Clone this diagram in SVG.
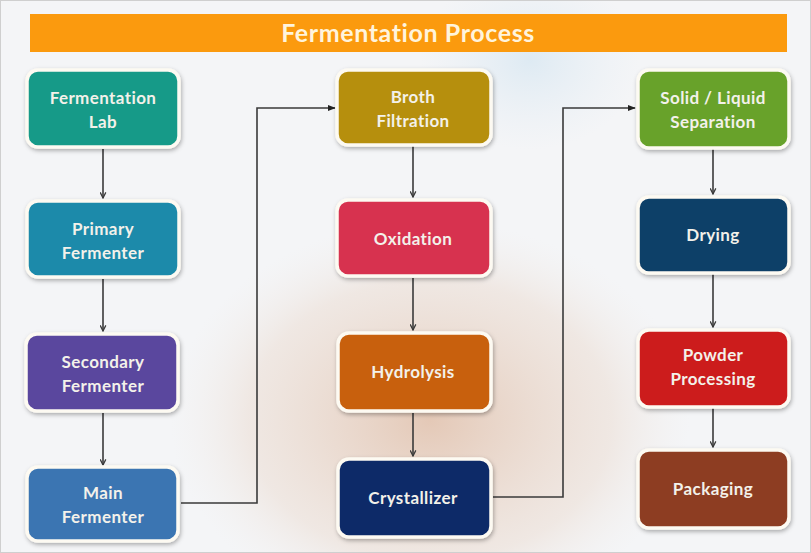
<svg xmlns="http://www.w3.org/2000/svg" width="811" height="553" viewBox="0 0 811 553">
<defs>
<style>
.box{stroke:#fdfaf2;stroke-width:3.5;filter:url(#sh)}
.lbl{font-family:Lato,"Open Sans","Liberation Sans",sans-serif;font-weight:bold;font-size:17px;letter-spacing:0.4px;text-anchor:middle;fill:#f3f1ea}
.con{fill:none;stroke:#3a3a3a;stroke-width:1.6}
.title{font-family:Lato,"Open Sans","Liberation Sans",sans-serif;font-weight:bold;font-size:25px;letter-spacing:0.6px;text-anchor:middle;fill:#fff4dc}
</style>
<filter id="sh" x="-10%" y="-10%" width="125%" height="130%">
<feDropShadow dx="1" dy="2" stdDeviation="2" flood-color="#000" flood-opacity="0.3"/>
</filter>
<radialGradient id="blob" cx="0.5" cy="0.5" r="0.5">
<stop offset="0" stop-color="#c26a2e" stop-opacity="0.32"/>
<stop offset="0.7" stop-color="#d7a27a" stop-opacity="0.16"/>
<stop offset="1" stop-color="#e8d5c4" stop-opacity="0"/>
</radialGradient>
<radialGradient id="blue" cx="0.5" cy="0.5" r="0.5">
<stop offset="0" stop-color="#cfe3f0" stop-opacity="0.6"/>
<stop offset="1" stop-color="#dfeaf3" stop-opacity="0"/>
</radialGradient>
<marker id="v" viewBox="0 0 10 10" refX="9" refY="5" markerWidth="7" markerHeight="7" orient="auto" markerUnits="userSpaceOnUse">
<path d="M1,1 L9,5 L1,9" fill="none" stroke="#3a3a3a" stroke-width="1.8"/>
</marker>
<marker id="tri" viewBox="0 0 10 10" refX="9" refY="5" markerWidth="8" markerHeight="8" orient="auto" markerUnits="userSpaceOnUse">
<path d="M0,1 L10,5 L0,9 Z" fill="#222"/>
</marker>
</defs>
<rect width="811" height="553" fill="#f4f5f7"/>
<ellipse cx="430" cy="420" rx="260" ry="200" fill="url(#blob)"/>
<ellipse cx="530" cy="60" rx="110" ry="90" fill="url(#blue)"/>
<rect x="0.5" y="0.5" width="810" height="552" fill="none" stroke="#cfcfcf"/>

<g id="header">
<rect x="30" y="14" width="757" height="38" fill="#fb9a0e"/>
<text class="title" x="408" y="42">Fermentation Process</text>
</g>

<g id="connectors">
<line class="con" x1="103" y1="149" x2="103" y2="198" marker-end="url(#v)"/>
<line class="con" x1="103" y1="279" x2="103" y2="331" marker-end="url(#v)"/>
<line class="con" x1="103" y1="413" x2="103" y2="465" marker-end="url(#v)"/>
<polyline class="con" points="181,503 257,503 257,108 335,108" marker-end="url(#tri)"/>
<line class="con" x1="413" y1="146" x2="413" y2="197" marker-end="url(#v)"/>
<line class="con" x1="413" y1="278" x2="413" y2="330" marker-end="url(#v)"/>
<line class="con" x1="413" y1="413" x2="413" y2="456" marker-end="url(#v)"/>
<polyline class="con" points="493,497 563,497 563,108 635,108" marker-end="url(#tri)"/>
<line class="con" x1="713" y1="149" x2="713" y2="194" marker-end="url(#v)"/>
<line class="con" x1="713" y1="274" x2="713" y2="327" marker-end="url(#v)"/>
<line class="con" x1="713" y1="408" x2="713" y2="447" marker-end="url(#v)"/>
</g>

<g id="fermentation-lab">
<rect class="box" x="27" y="70" width="152" height="77" rx="11" fill="#149a88"/>
<text class="lbl" x="103" y="104">Fermentation</text>
<text class="lbl" x="103" y="128">Lab</text>
</g>
<g id="primary-fermenter">
<rect class="box" x="27" y="201" width="152" height="76" rx="11" fill="#1b8aaa"/>
<text class="lbl" x="103" y="235">Primary</text>
<text class="lbl" x="103" y="259">Fermenter</text>
</g>
<g id="secondary-fermenter">
<rect class="box" x="26" y="334" width="152" height="77" rx="11" fill="#5a479e"/>
<text class="lbl" x="103" y="368">Secondary</text>
<text class="lbl" x="103" y="392">Fermenter</text>
</g>
<g id="main-fermenter">
<rect class="box" x="27" y="467" width="151" height="74" rx="11" fill="#3a74b2"/>
<text class="lbl" x="103" y="499">Main</text>
<text class="lbl" x="103" y="523">Fermenter</text>
</g>

<g id="broth-filtration">
<rect class="box" x="337" y="70" width="154" height="75" rx="11" fill="#b68f10"/>
<text class="lbl" x="413" y="103" fill="#f6ecc8">Broth</text>
<text class="lbl" x="413" y="127" fill="#f6ecc8">Filtration</text>
</g>
<g id="oxidation">
<rect class="box" x="337" y="200" width="154" height="76" rx="11" fill="#d7334f"/>
<text class="lbl" x="413" y="245">Oxidation</text>
</g>
<g id="hydrolysis">
<rect class="box" x="338" y="333" width="153" height="78" rx="11" fill="#c8600f"/>
<text class="lbl" x="413" y="378">Hydrolysis</text>
</g>
<g id="crystallizer">
<rect class="box" x="338" y="459" width="153" height="78" rx="11" fill="#0e2a68"/>
<text class="lbl" x="413" y="504">Crystallizer</text>
</g>

<g id="solid-liquid-separation">
<rect class="box" x="638" y="70" width="151" height="78" rx="11" fill="#68a22a"/>
<text class="lbl" x="713" y="104" fill="#eef4d8">Solid / Liquid</text>
<text class="lbl" x="713" y="128" fill="#eef4d8">Separation</text>
</g>
<g id="drying">
<rect class="box" x="638" y="197" width="151" height="76" rx="11" fill="#113f68"/>
<text class="lbl" x="713" y="241">Drying</text>
</g>
<g id="powder-processing">
<rect class="box" x="638" y="330" width="151" height="77" rx="11" fill="#cc1e1e"/>
<text class="lbl" x="713" y="361">Powder</text>
<text class="lbl" x="713" y="385">Processing</text>
</g>
<g id="packaging">
<rect class="box" x="638" y="450" width="151" height="78" rx="11" fill="#8d3d22"/>
<text class="lbl" x="713" y="495">Packaging</text>
</g>
</svg>
